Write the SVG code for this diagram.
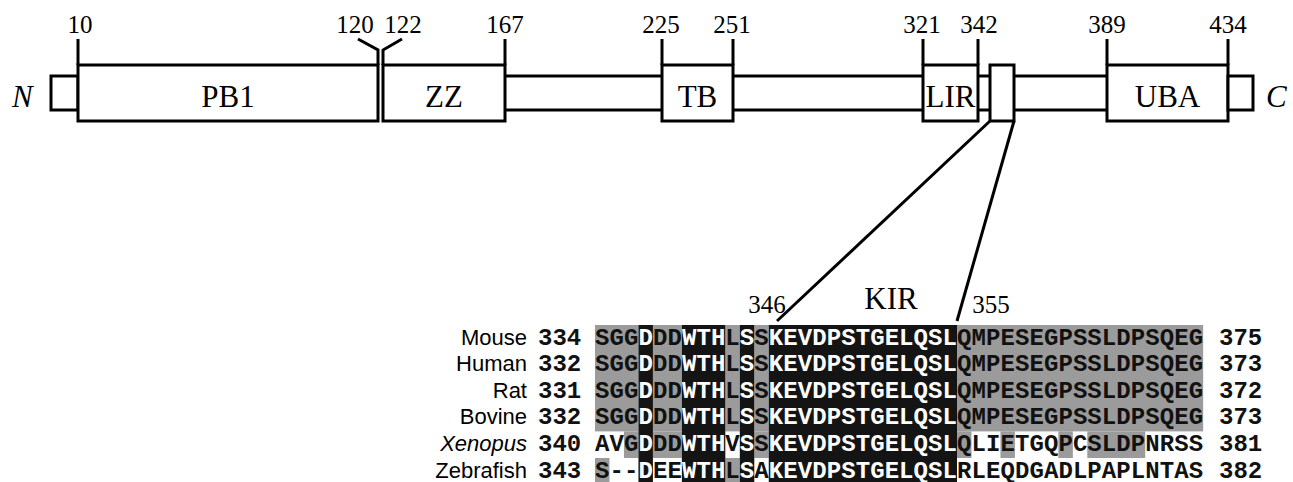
<svg xmlns="http://www.w3.org/2000/svg" width="1293" height="482" viewBox="0 0 1293 482">
<defs>
<style>
.box{fill:#fff;stroke:#000;stroke-width:3}
.ln{stroke:#000;stroke-width:3;fill:none}
.num{font-family:"Liberation Serif","Times New Roman",serif;font-size:25px;text-anchor:middle;fill:#000}
.dom{font-family:"Liberation Serif","Times New Roman",serif;font-size:31px;text-anchor:middle;fill:#000}
.term{font-family:"Liberation Serif","Times New Roman",serif;font-size:31px;font-style:italic;fill:#000}
.sp{font-family:"Liberation Sans",Arial,sans-serif;font-size:22px;text-anchor:end;fill:#000}
.mono{font-family:"Liberation Mono","Courier New",monospace;font-size:24px;font-weight:bold;fill:#111}
.seq{font-family:"Liberation Mono","Courier New",monospace;font-size:24px;font-weight:bold;fill:#111;text-anchor:middle}
.w{fill:#fff}
.g{fill:#9b9b9b}
.k{fill:#141414}
</style>
</defs>
<rect width="1293" height="482" fill="#fff"/>

<g id="backbone">
<line class="ln" x1="505" y1="76" x2="662" y2="76"/><line class="ln" x1="505" y1="110" x2="662" y2="110"/>
<line class="ln" x1="733" y1="76" x2="923" y2="76"/><line class="ln" x1="733" y1="110" x2="923" y2="110"/>
<line class="ln" x1="978" y1="76" x2="990" y2="76"/><line class="ln" x1="978" y1="110" x2="990" y2="110"/>
<line class="ln" x1="1014" y1="76" x2="1107" y2="76"/><line class="ln" x1="1014" y1="110" x2="1107" y2="110"/>
</g>

<g id="ticks">
<line class="ln" x1="78" y1="39" x2="78" y2="65"/>
<polyline class="ln" points="358,39 378,50 378,65"/>
<polyline class="ln" points="402,39 383,50 383,65"/>
<line class="ln" x1="505" y1="39" x2="505" y2="65"/>
<line class="ln" x1="662" y1="39" x2="662" y2="65"/>
<line class="ln" x1="733" y1="39" x2="733" y2="65"/>
<line class="ln" x1="923" y1="39" x2="923" y2="65"/>
<line class="ln" x1="978" y1="39" x2="978" y2="65"/>
<line class="ln" x1="1107" y1="39" x2="1107" y2="65"/>
<line class="ln" x1="1228" y1="39" x2="1228" y2="65"/>
<text class="num" x="80" y="33">10</text>
<text class="num" x="355" y="33">120</text>
<text class="num" x="403" y="33">122</text>
<text class="num" x="505" y="33">167</text>
<text class="num" x="661" y="33">225</text>
<text class="num" x="732" y="33">251</text>
<text class="num" x="922" y="33">321</text>
<text class="num" x="979" y="33">342</text>
<text class="num" x="1107" y="33">389</text>
<text class="num" x="1228" y="33">434</text>
</g>

<g id="N-term"><rect class="box" x="51" y="76" width="27" height="34"/><text class="term" x="12" y="107">N</text></g>
<g id="PB1"><rect class="box" x="78" y="65" width="300" height="56"/><text class="dom" x="228" y="107">PB1</text></g>
<g id="ZZ"><rect class="box" x="383" y="65" width="122" height="56"/><text class="dom" x="444" y="107">ZZ</text></g>
<g id="TB"><rect class="box" x="662" y="65" width="71" height="56"/><text class="dom" x="697.5" y="107">TB</text></g>
<g id="LIR"><rect class="box" x="923" y="65" width="55" height="56"/><text class="dom" x="950.5" y="107">LIR</text></g>
<g id="KIR-box"><rect class="box" x="990" y="65" width="24" height="56"/></g>
<g id="UBA"><rect class="box" x="1107" y="65" width="121" height="56"/><text class="dom" x="1167.5" y="107">UBA</text></g>
<g id="C-term"><rect class="box" x="1228" y="76" width="25" height="34"/><text class="term" x="1266" y="107">C</text></g>

<g id="connectors">
<line class="ln" x1="990" y1="121" x2="777" y2="321"/>
<line class="ln" x1="1014" y1="121" x2="957" y2="321"/>
</g>

<g id="alignment">
<text class="num" x="767" y="313">346</text>
<text class="dom" x="891" y="309">KIR</text>
<text class="num" x="991" y="313">355</text>

<g id="shading">
<rect class="g" x="595" y="325" width="43.44" height="106.4"/>
<rect class="g" x="652.92" y="325" width="28.96" height="106.4"/>
<rect class="g" x="725.32" y="325" width="14.48" height="106.4"/>
<rect class="g" x="754.28" y="325" width="14.48" height="106.4"/>
<rect class="g" x="957" y="325" width="246.16" height="106.4"/>
<rect class="g" x="623.96" y="431.4" width="14.48" height="26.6"/>
<rect class="g" x="652.92" y="431.4" width="28.96" height="26.6"/>
<rect class="g" x="754.28" y="431.4" width="14.48" height="26.6"/>
<rect class="g" x="957" y="431.4" width="14.48" height="26.6"/>
<rect class="g" x="1000.44" y="431.4" width="14.48" height="26.6"/>
<rect class="g" x="1058.36" y="431.4" width="14.48" height="26.6"/>
<rect class="g" x="1087.32" y="431.4" width="57.92" height="26.6"/>
<rect class="g" x="595" y="458" width="14.48" height="26.6"/>
<rect class="g" x="725.32" y="458" width="14.48" height="26.6"/>
<rect class="k" x="638.44" y="325" width="14.48" height="159.6"/>
<rect class="k" x="681.88" y="325" width="43.44" height="159.6"/>
<rect class="k" x="739.8" y="325" width="14.48" height="159.6"/>
<rect class="k" x="768.76" y="325" width="188.24" height="159.6"/>
</g>

<g id="row-mouse">
<text class="sp" x="527" y="344.5">Mouse</text>
<text class="mono" x="538" y="344.5">334</text>
<text class="seq" y="344.5" x="602.24 616.72 631.2 645.68 660.16 674.64 689.12 703.6 718.08 732.56 747.04 761.52 776 790.48 804.96 819.44 833.92 848.4 862.88 877.36 891.84 906.32 920.8 935.28 949.76 964.24 978.72 993.2 1007.68 1022.16 1036.64 1051.12 1065.6 1080.08 1094.56 1109.04 1123.52 1138 1152.48 1166.96 1181.44 1195.92">SGG<tspan class="w">D</tspan>DD<tspan class="w">WTH</tspan>L<tspan class="w">S</tspan>S<tspan class="w">KEVDPSTGELQSL</tspan>QMPESEGPSSLDPSQEG</text>
<text class="mono" x="1219" y="344.5">375</text>
</g>
<g id="row-human">
<text class="sp" x="527" y="371.1">Human</text>
<text class="mono" x="538" y="371.1">332</text>
<text class="seq" y="371.1" x="602.24 616.72 631.2 645.68 660.16 674.64 689.12 703.6 718.08 732.56 747.04 761.52 776 790.48 804.96 819.44 833.92 848.4 862.88 877.36 891.84 906.32 920.8 935.28 949.76 964.24 978.72 993.2 1007.68 1022.16 1036.64 1051.12 1065.6 1080.08 1094.56 1109.04 1123.52 1138 1152.48 1166.96 1181.44 1195.92">SGG<tspan class="w">D</tspan>DD<tspan class="w">WTH</tspan>L<tspan class="w">S</tspan>S<tspan class="w">KEVDPSTGELQSL</tspan>QMPESEGPSSLDPSQEG</text>
<text class="mono" x="1219" y="371.1">373</text>
</g>
<g id="row-rat">
<text class="sp" x="527" y="397.7">Rat</text>
<text class="mono" x="538" y="397.7">331</text>
<text class="seq" y="397.7" x="602.24 616.72 631.2 645.68 660.16 674.64 689.12 703.6 718.08 732.56 747.04 761.52 776 790.48 804.96 819.44 833.92 848.4 862.88 877.36 891.84 906.32 920.8 935.28 949.76 964.24 978.72 993.2 1007.68 1022.16 1036.64 1051.12 1065.6 1080.08 1094.56 1109.04 1123.52 1138 1152.48 1166.96 1181.44 1195.92">SGG<tspan class="w">D</tspan>DD<tspan class="w">WTH</tspan>L<tspan class="w">S</tspan>S<tspan class="w">KEVDPSTGELQSL</tspan>QMPESEGPSSLDPSQEG</text>
<text class="mono" x="1219" y="397.7">372</text>
</g>
<g id="row-bovine">
<text class="sp" x="527" y="424.3">Bovine</text>
<text class="mono" x="538" y="424.3">332</text>
<text class="seq" y="424.3" x="602.24 616.72 631.2 645.68 660.16 674.64 689.12 703.6 718.08 732.56 747.04 761.52 776 790.48 804.96 819.44 833.92 848.4 862.88 877.36 891.84 906.32 920.8 935.28 949.76 964.24 978.72 993.2 1007.68 1022.16 1036.64 1051.12 1065.6 1080.08 1094.56 1109.04 1123.52 1138 1152.48 1166.96 1181.44 1195.92">SGG<tspan class="w">D</tspan>DD<tspan class="w">WTH</tspan>L<tspan class="w">S</tspan>S<tspan class="w">KEVDPSTGELQSL</tspan>QMPESEGPSSLDPSQEG</text>
<text class="mono" x="1219" y="424.3">373</text>
</g>
<g id="row-xenopus">
<text class="sp" x="527" y="450.9" font-style="italic">Xenopus</text>
<text class="mono" x="538" y="450.9">340</text>
<text class="seq" y="450.9" x="602.24 616.72 631.2 645.68 660.16 674.64 689.12 703.6 718.08 732.56 747.04 761.52 776 790.48 804.96 819.44 833.92 848.4 862.88 877.36 891.84 906.32 920.8 935.28 949.76 964.24 978.72 993.2 1007.68 1022.16 1036.64 1051.12 1065.6 1080.08 1094.56 1109.04 1123.52 1138 1152.48 1166.96 1181.44 1195.92">AVG<tspan class="w">D</tspan>DD<tspan class="w">WTH</tspan>V<tspan class="w">S</tspan>S<tspan class="w">KEVDPSTGELQSL</tspan>QLIETGQPCSLDPNRSS</text>
<text class="mono" x="1219" y="450.9">381</text>
</g>
<g id="row-zebrafish">
<text class="sp" x="527" y="477.5">Zebrafish</text>
<text class="mono" x="538" y="477.5">343</text>
<text class="seq" y="477.5" x="602.24 616.72 631.2 645.68 660.16 674.64 689.12 703.6 718.08 732.56 747.04 761.52 776 790.48 804.96 819.44 833.92 848.4 862.88 877.36 891.84 906.32 920.8 935.28 949.76 964.24 978.72 993.2 1007.68 1022.16 1036.64 1051.12 1065.6 1080.08 1094.56 1109.04 1123.52 1138 1152.48 1166.96 1181.44 1195.92">S--<tspan class="w">D</tspan>EE<tspan class="w">WTH</tspan>L<tspan class="w">S</tspan>A<tspan class="w">KEVDPSTGELQSL</tspan>RLEQDGADLPAPLNTAS</text>
<text class="mono" x="1219" y="477.5">382</text>
</g>
</g>
</svg>
